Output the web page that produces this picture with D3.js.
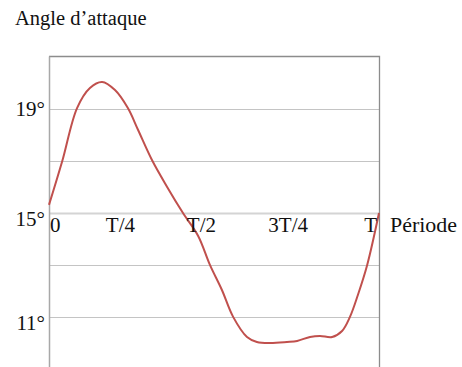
<!DOCTYPE html>
<html><head><meta charset="utf-8">
<script src="https://cdn.jsdelivr.net/npm/d3@7"></script>
<style>html,body{margin:0;padding:0;background:#fff;}svg{display:block;}</style>
</head><body>
<script>
// Data (t as a fraction of the period T, angle in degrees)
const periodT = [0, 0.04, 0.085, 0.124, 0.161, 0.2, 0.239, 0.270, 0.312, 0.358, 0.406, 0.452, 0.488, 0.524, 0.558, 0.6, 0.63, 0.67, 0.721, 0.752, 0.791, 0.821, 0.858, 0.888, 0.912, 0.936, 0.964, 1];
const angle   = [15.31, 16.98, 19.02, 19.79, 20.02, 19.71, 19.02, 18.18, 17.03, 16.0, 15.0, 14.12, 13.0, 12.05, 11.02, 10.25, 10.06, 10.02, 10.06, 10.10, 10.25, 10.29, 10.25, 10.48, 11.02, 11.86, 13.0, 15.0];
const xTickValues = [0, 0.25, 0.5, 0.75, 1];
const xTickLabels = ["0", "T/4", "T/2", "3T/4", "T"];
const yGridValues = [11, 13, 15, 17, 19];
const yTickValues = [19, 15, 11];
const yTickLabels = ["19°", "15°", "11°"];
const title = "Angle d’attaque";
const xTitle = "Période";

const W = 462, H = 367;
const svg = d3.select("body").append("svg").attr("width", W).attr("height", H);
const x = d3.scaleLinear().domain([0, 1]).range([49, 379]);
const y = d3.scaleLinear().domain([9.1, 21]).range([367, 56.4]);
const font = "'Liberation Serif', 'Times New Roman', serif";

// gridlines
svg.append("g").selectAll("line").data(yGridValues).join("line")
  .attr("x1", x(0)).attr("x2", x(1))
  .attr("y1", d => Math.round(y(d)) + 0.5).attr("y2", d => Math.round(y(d)) + 0.5)
  .attr("stroke", d => d === 15 ? "#d4d4d4" : "#c4c4c4")
  .attr("stroke-width", d => d === 15 ? 2 : 1.2);

// top and right border
svg.append("path")
  .attr("d", `M${x(0)},${Math.round(y(21)) + 0.5}H${x(1) + 0.5}V${H}`)
  .attr("fill", "none").attr("stroke", "#8c8c8c").attr("stroke-width", 1.3);
// left axis line
svg.append("line").attr("x1", x(0) + 0.5).attr("x2", x(0) + 0.5)
  .attr("y1", y(21)).attr("y2", H)
  .attr("stroke", "#a8a8a8").attr("stroke-width", 1.5);

// curve
const pts = periodT.map((t, i) => [t, angle[i]]);
svg.append("path").datum(pts)
  .attr("d", d3.line().x(d => x(d[0])).y(d => y(d[1])).curve(d3.curveCatmullRom.alpha(0.5)))
  .attr("fill", "none").attr("stroke", "#c0504d").attr("stroke-width", 2);

// y labels
const yShift = [7, 13, 13];
svg.append("g").selectAll("text").data(yTickValues).join("text")
  .attr("x", x(0) - 4).attr("y", (d, i) => y(d) + yShift[i])
  .attr("text-anchor", "end")
  .attr("font-family", font).attr("font-size", 21).attr("fill", "#111")
  .text((d, i) => yTickLabels[i]);

// x labels (on the 15° line)
const xAnchors = ["start", "end", "end", "end", "end"];
const xShift = [1, 3.5, 2, 11.5, -2];
svg.append("g").selectAll("text").data(xTickValues).join("text")
  .attr("x", (d, i) => x(d) + xShift[i]).attr("y", y(15) + 19)
  .attr("text-anchor", (d, i) => xAnchors[i])
  .attr("font-family", font).attr("font-size", 21).attr("fill", "#111")
  .text((d, i) => xTickLabels[i]);

svg.append("text").attr("x", 390).attr("y", y(15) + 19)
  .attr("font-family", font).attr("font-size", 21).attr("fill", "#111")
  .attr("textLength", 67).attr("lengthAdjust", "spacingAndGlyphs")
  .text(xTitle);

svg.append("text").attr("x", 15).attr("y", 25)
  .attr("font-family", font).attr("font-size", 20.5).attr("fill", "#111")
  .text(title);
</script>
</body></html>
